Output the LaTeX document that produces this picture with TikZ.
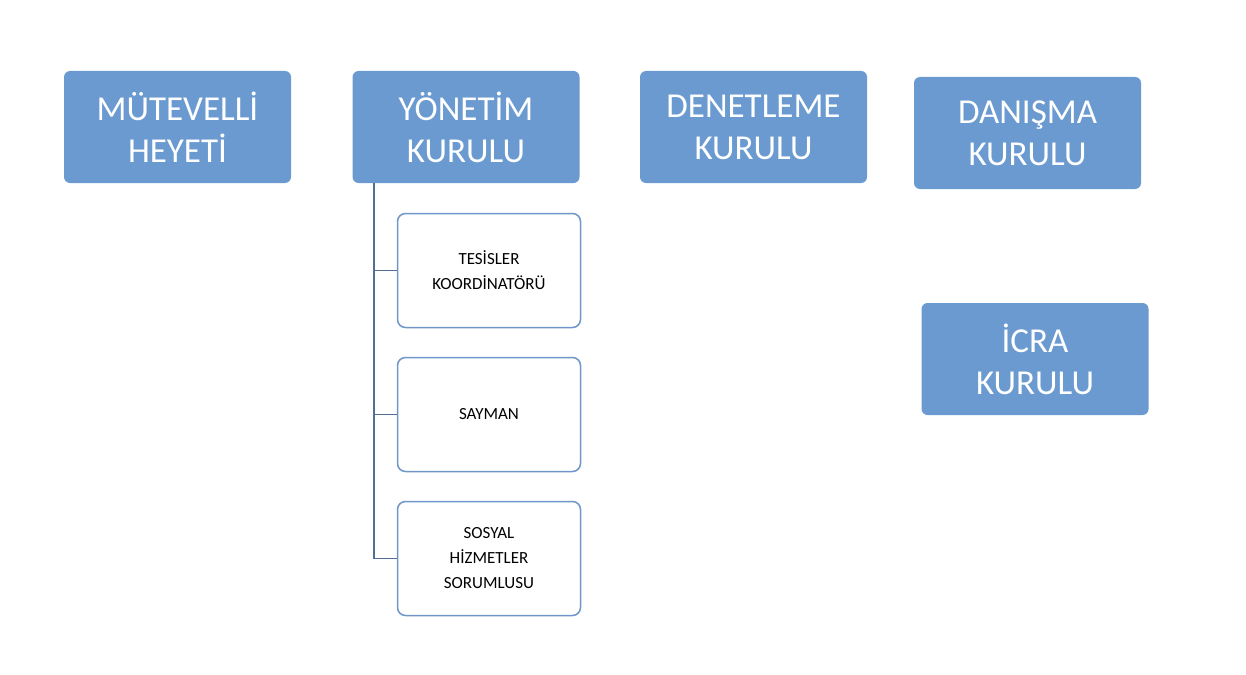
\documentclass[tikz,border=0pt]{standalone}
\usepackage{fontspec}
\setmainfont{Carlito}
\definecolor{bfill}{RGB}{106,154,208}
\definecolor{bline}{RGB}{110,150,200}
\definecolor{cline}{RGB}{80,110,150}
\begin{document}
\begin{tikzpicture}[x=1pt,y=-1pt,
  bigbox/.style={fill=bfill,draw=none,rounded corners=6pt,minimum width=227pt,minimum height=112pt,inner sep=0pt,text=white,align=center,font=\fontsize{35}{42}\selectfont},
  smallbox/.style={fill=white,draw=bline,line width=1.5pt,rounded corners=8pt,minimum width=183pt,minimum height=114pt,inner sep=0pt,align=center,font=\fontsize{17}{25}\selectfont},
  conn/.style={draw=cline,line width=1.5pt}]
\useasboundingbox (0,0) rectangle (1246,674);
\node[bigbox] (mh) at (177.5,127) {MÜTEVELLİ\\HEYETİ};
\node[bigbox] (yk) at (466,127) {YÖNETİM\\KURULU};
\node[bigbox] (dk) at (753.5,127) {DENETLEME\\KURULU};
\node[bigbox] (dn) at (1027.5,133) {DANIŞMA\\KURULU};
\node[bigbox] (ic) at (1035,359) {İCRA\\KURULU};
\node[smallbox] (t) at (489,270.5) {TESİSLER\\KOORDİNATÖRÜ};
\node[smallbox] (s) at (489,414.5) {SAYMAN};
\node[smallbox] (h) at (489,558.5) {SOSYAL\\HİZMETLER\\SORUMLUSU};
\coordinate (top) at (374,183);
\coordinate (bot) at (374,558.5);
\draw[conn] (top) -- (bot) -- (h.west);
\draw[conn] (t.west) -- (t.west -| top);
\draw[conn] (s.west) -- (s.west -| top);
\end{tikzpicture}
\end{document}
